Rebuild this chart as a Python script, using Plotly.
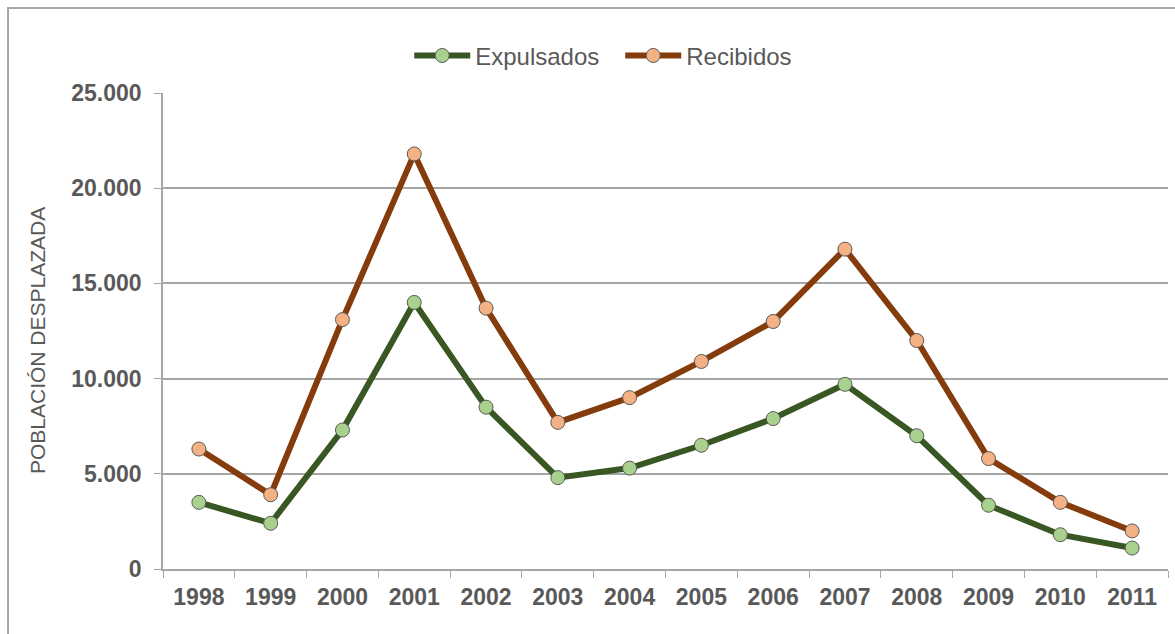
import plotly.graph_objects as go

# Población desplazada por año
years = ["1998", "1999", "2000", "2001", "2002", "2003", "2004",
         "2005", "2006", "2007", "2008", "2009", "2010", "2011"]
expulsados = [3500, 2400, 7300, 14000, 8500, 4800, 5300,
              6500, 7900, 9700, 7000, 3350, 1800, 1100]
recibidos = [6300, 3900, 13100, 21800, 13700, 7700, 9000,
             10900, 13000, 16800, 12000, 5800, 3500, 2000]
y_ticks = [0, 5000, 10000, 15000, 20000, 25000]
y_tick_text = ["0", "5.000", "10.000", "15.000", "20.000", "25.000"]

FONT = "Liberation Sans, Arial, sans-serif"
TEXT_GRAY = "#595959"
GRID = "#a6a6a6"

fig = go.Figure()
fig.add_trace(go.Scatter(
    x=years, y=expulsados, name="Expulsados", mode="lines+markers",
    line=dict(color="#385723", width=6),
    marker=dict(size=14, color="#a9d18e", line=dict(color="#595959", width=1)),
))
fig.add_trace(go.Scatter(
    x=years, y=recibidos, name="Recibidos", mode="lines+markers",
    line=dict(color="#843c0c", width=6),
    marker=dict(size=14, color="#f4b183", line=dict(color="#595959", width=1)),
))

# outer chart border
fig.add_shape(type="rect", xref="paper", yref="paper",
              x0=-0.1542, x1=1.03, y0=-0.16, y1=1.1786,
              line=dict(color="#a6a6a6", width=2), fillcolor="rgba(0,0,0,0)",
              layer="below")

# vertical axis title
fig.add_annotation(
    text="POBLACIÓN DESPLAZADA", textangle=-90,
    xref="paper", yref="paper", x=-0.1254, y=0.481,
    xanchor="center", yanchor="middle", showarrow=False,
    font=dict(size=21, family=FONT, color=TEXT_GRAY),
)

fig.update_layout(
    width=1175, height=634,
    margin=dict(l=163, r=7, t=93, b=65),
    paper_bgcolor="white", plot_bgcolor="white",
    font=dict(family=FONT, color=TEXT_GRAY),
    showlegend=True,
    legend=dict(
        orientation="h", x=0.245, xanchor="left", y=1.078, yanchor="middle",
        font=dict(size=24, color=TEXT_GRAY, family=FONT),
        itemwidth=56, entrywidth=140, bgcolor="rgba(0,0,0,0)",
    ),
    xaxis=dict(
        type="category", range=[-0.5, 13.5],
        showline=True, linecolor=GRID, linewidth=1.5,
        ticks="outside", tickson="boundaries", ticklen=7, tickcolor=GRID,
        showgrid=False, zeroline=False,
        tickfont=dict(size=23, family=FONT, color=TEXT_GRAY, weight="bold"),
        ticklabelstandoff=7,
    ),
    yaxis=dict(
        range=[0, 25000], tickvals=y_ticks, ticktext=y_tick_text,
        showline=True, linecolor=GRID, linewidth=1.5,
        ticks="outside", ticklen=7, tickcolor=GRID,
        showgrid=True, gridcolor=GRID, gridwidth=1.5, zeroline=False,
        tickfont=dict(size=23, family=FONT, color=TEXT_GRAY, weight="bold"),
        ticklabelstandoff=8,
    ),
)

fig.write_html("out.html")
